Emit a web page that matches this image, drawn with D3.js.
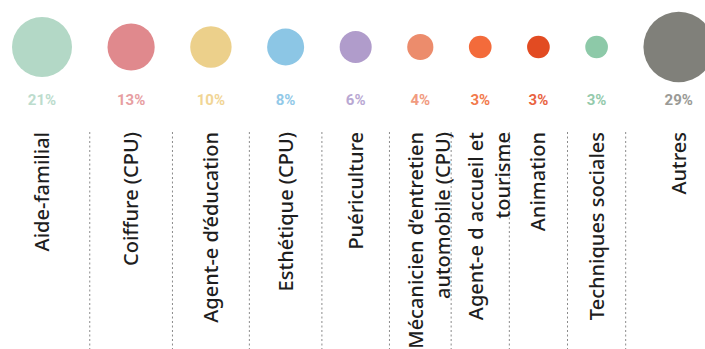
<!DOCTYPE html>
<html>
<head>
<meta charset="utf-8">
<script src="https://cdn.jsdelivr.net/npm/d3@7"></script>
<style>
  body { margin: 0; background: #fff; }
  .pct { font-family: Roboto, sans-serif; font-weight: 700; font-size: 15px; }
  .lbl { font-family: "Noto Sans", sans-serif; font-weight: 500; font-size: 20px; fill: #1e1e1e; }
</style>
</head>
<body>
<script>
// formations and their share
var categories = [
  ["Aide-familial"],
  ["Coiffure (CPU)"],
  ["Agent-e d\u2019\u00e9ducation"],
  ["Esth\u00e9tique (CPU)"],
  ["Pu\u00e9riculture"],
  ["M\u00e9canicien d\u2019entretien", "automobile (CPU)"],
  ["Agent-e d accueil et", "tourisme"],
  ["Animation"],
  ["Techniques sociales"],
  ["Autres"]
]
var values = [21, 13, 10, 8, 6, 4, 3, 3, 3, 29]
var colors = ["#b3d8c6", "#e0898d", "#ecd08b", "#8cc6e5", "#b09ccb",
              "#ec8c6c", "#f36b3b", "#e24b22", "#8dc9a8", "#80807a"]
var pctColors = ["#bcdccd", "#e79ea2", "#f1d595", "#92c9e8", "#b9a8d3",
                 "#f19b80", "#f27a4c", "#e9633f", "#94caac", "#9a9a96"]

var width = 705, height = 349
var gap = 35.5
var startX = 12
var cy = 47

var svg = d3.select("body").append("svg")
  .attr("width", width)
  .attr("height", height)

// area proportional circles
var r = d3.scaleSqrt().domain([0, 21]).range([0, 30])

// circles packed left to right with a constant gap
var data = []
var x = startX
values.forEach(function(v, i) {
  var rad = r(v)
  data.push({ v: v, r: rad, cx: x + rad, lines: categories[i], i: i })
  x += 2 * rad + gap
})

svg.selectAll(".bubble")
  .data(data)
  .enter().append("circle")
  .attr("class", "bubble")
  .attr("cx", function(d) { return d.cx })
  .attr("cy", cy)
  .attr("r", function(d) { return d.r })
  .style("fill", function(d) { return colors[d.i] })

svg.selectAll(".pct")
  .data(data)
  .enter().append("text")
  .attr("class", "pct")
  .attr("x", function(d) { return d.cx })
  .attr("y", 100)
  .attr("dy", ".35em")
  .style("text-anchor", "middle")
  .style("fill", function(d) { return pctColors[d.i] })
  .text(function(d) { return d.v + "%" })

// dotted separators halfway between neighbouring circles
var seps = d3.pairs(data).map(function(p) {
  return ((p[0].cx + p[0].r) + (p[1].cx - p[1].r)) / 2
})
svg.selectAll(".sep")
  .data(seps)
  .enter().append("line")
  .attr("class", "sep")
  .attr("x1", function(d) { return d }).attr("x2", function(d) { return d })
  .attr("y1", 132).attr("y2", height)
  .style("stroke", "#8a8a8a")
  .style("stroke-width", 1)
  .style("stroke-dasharray", "2,2.5")

// rotated labels, right aligned at the top
var lineH = 27
var lbl = svg.selectAll(".lbl")
  .data(data)
  .enter().append("g")
  .attr("class", "lbl")
  .attr("transform", function(d) {
    var shift = d.lines.length > 1 ? 9 : 0
    return "translate(" + (d.cx + shift) + ",132)"
  })

lbl.selectAll("text")
  .data(function(d) {
    return d.lines.map(function(t, j) { return { t: t, off: (j - (d.lines.length - 1) / 2) * lineH } })
  })
  .enter().append("text")
  .attr("transform", function(d) { return "translate(" + d.off + ",0) rotate(-90)" })
  .attr("dy", ".35em")
  .style("text-anchor", "end")
  .text(function(d) { return d.t })
</script>
</body>
</html>
